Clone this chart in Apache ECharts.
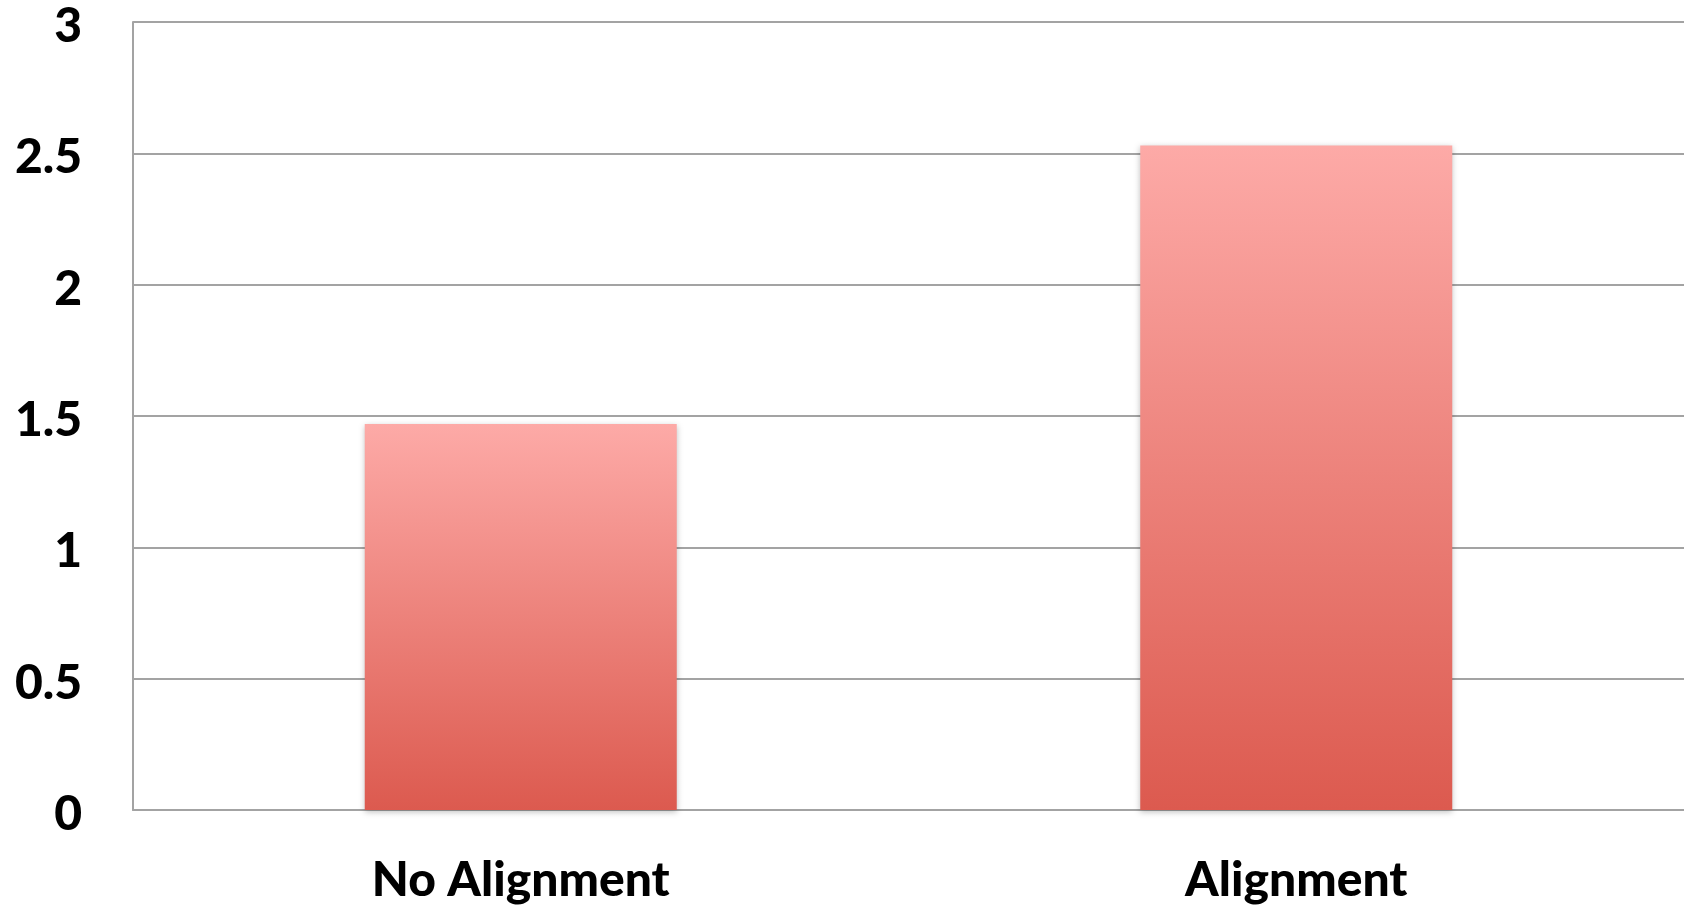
<!DOCTYPE html>
<html>
<head>
<meta charset="utf-8">
<style>
  html, body { margin: 0; padding: 0; background: #ffffff; }
  #chart { width: 1684px; height: 908px; }
</style>
<script src="https://cdn.jsdelivr.net/npm/echarts@6/dist/echarts.min.js"></script>
</head>
<body>
<div id="chart"></div>
<script>
// Categories and values for the bar chart
const categories = ['No Alignment', 'Alignment'];
const values = [1.47, 2.53];
const yTicks = [0, 0.5, 1, 1.5, 2, 2.5, 3];

const chart = echarts.init(document.getElementById('chart'));
const labelFont = 'Lato, "Open Sans", "Noto Sans", sans-serif';

chart.setOption({
  animation: false,
  backgroundColor: '#ffffff',
  grid: { left: 133, right: -5, top: 22, bottom: 98, containLabel: false },
  xAxis: {
    type: 'category',
    data: categories,
    axisLine: { show: true, lineStyle: { color: '#a3a3a3', width: 2 } },
    axisTick: { show: false },
    axisLabel: {
      color: '#000000',
      fontFamily: labelFont,
      fontWeight: 900,
      fontSize: 48,
      margin: 47
    },
    splitLine: { show: false }
  },
  yAxis: {
    type: 'value',
    min: 0,
    max: 3,
    interval: 0.5,
    axisLine: { show: true, lineStyle: { color: '#a3a3a3', width: 2 } },
    axisTick: { show: false },
    axisLabel: {
      color: '#000000',
      fontFamily: labelFont,
      fontWeight: 900,
      fontSize: 48,
      margin: 51,
      verticalAlign: 'top',
      lineHeight: 9,
      formatter: function (v) { return yTicks.indexOf(v) >= 0 ? String(v) : ''; }
    },
    splitLine: { show: true, lineStyle: { color: '#a3a3a3', width: 2 } }
  },
  series: [{
    type: 'bar',
    data: values,
    barWidth: 312,
    itemStyle: {
      color: new echarts.graphic.LinearGradient(0, 0, 0, 1, [
        { offset: 0, color: '#fdaaa7' },
        { offset: 1, color: '#dc5a4f' }
      ]),
      shadowColor: 'rgba(0,0,0,0.25)',
      shadowBlur: 6,
      shadowOffsetY: 2
    }
  }]
});
</script>
</body>
</html>
